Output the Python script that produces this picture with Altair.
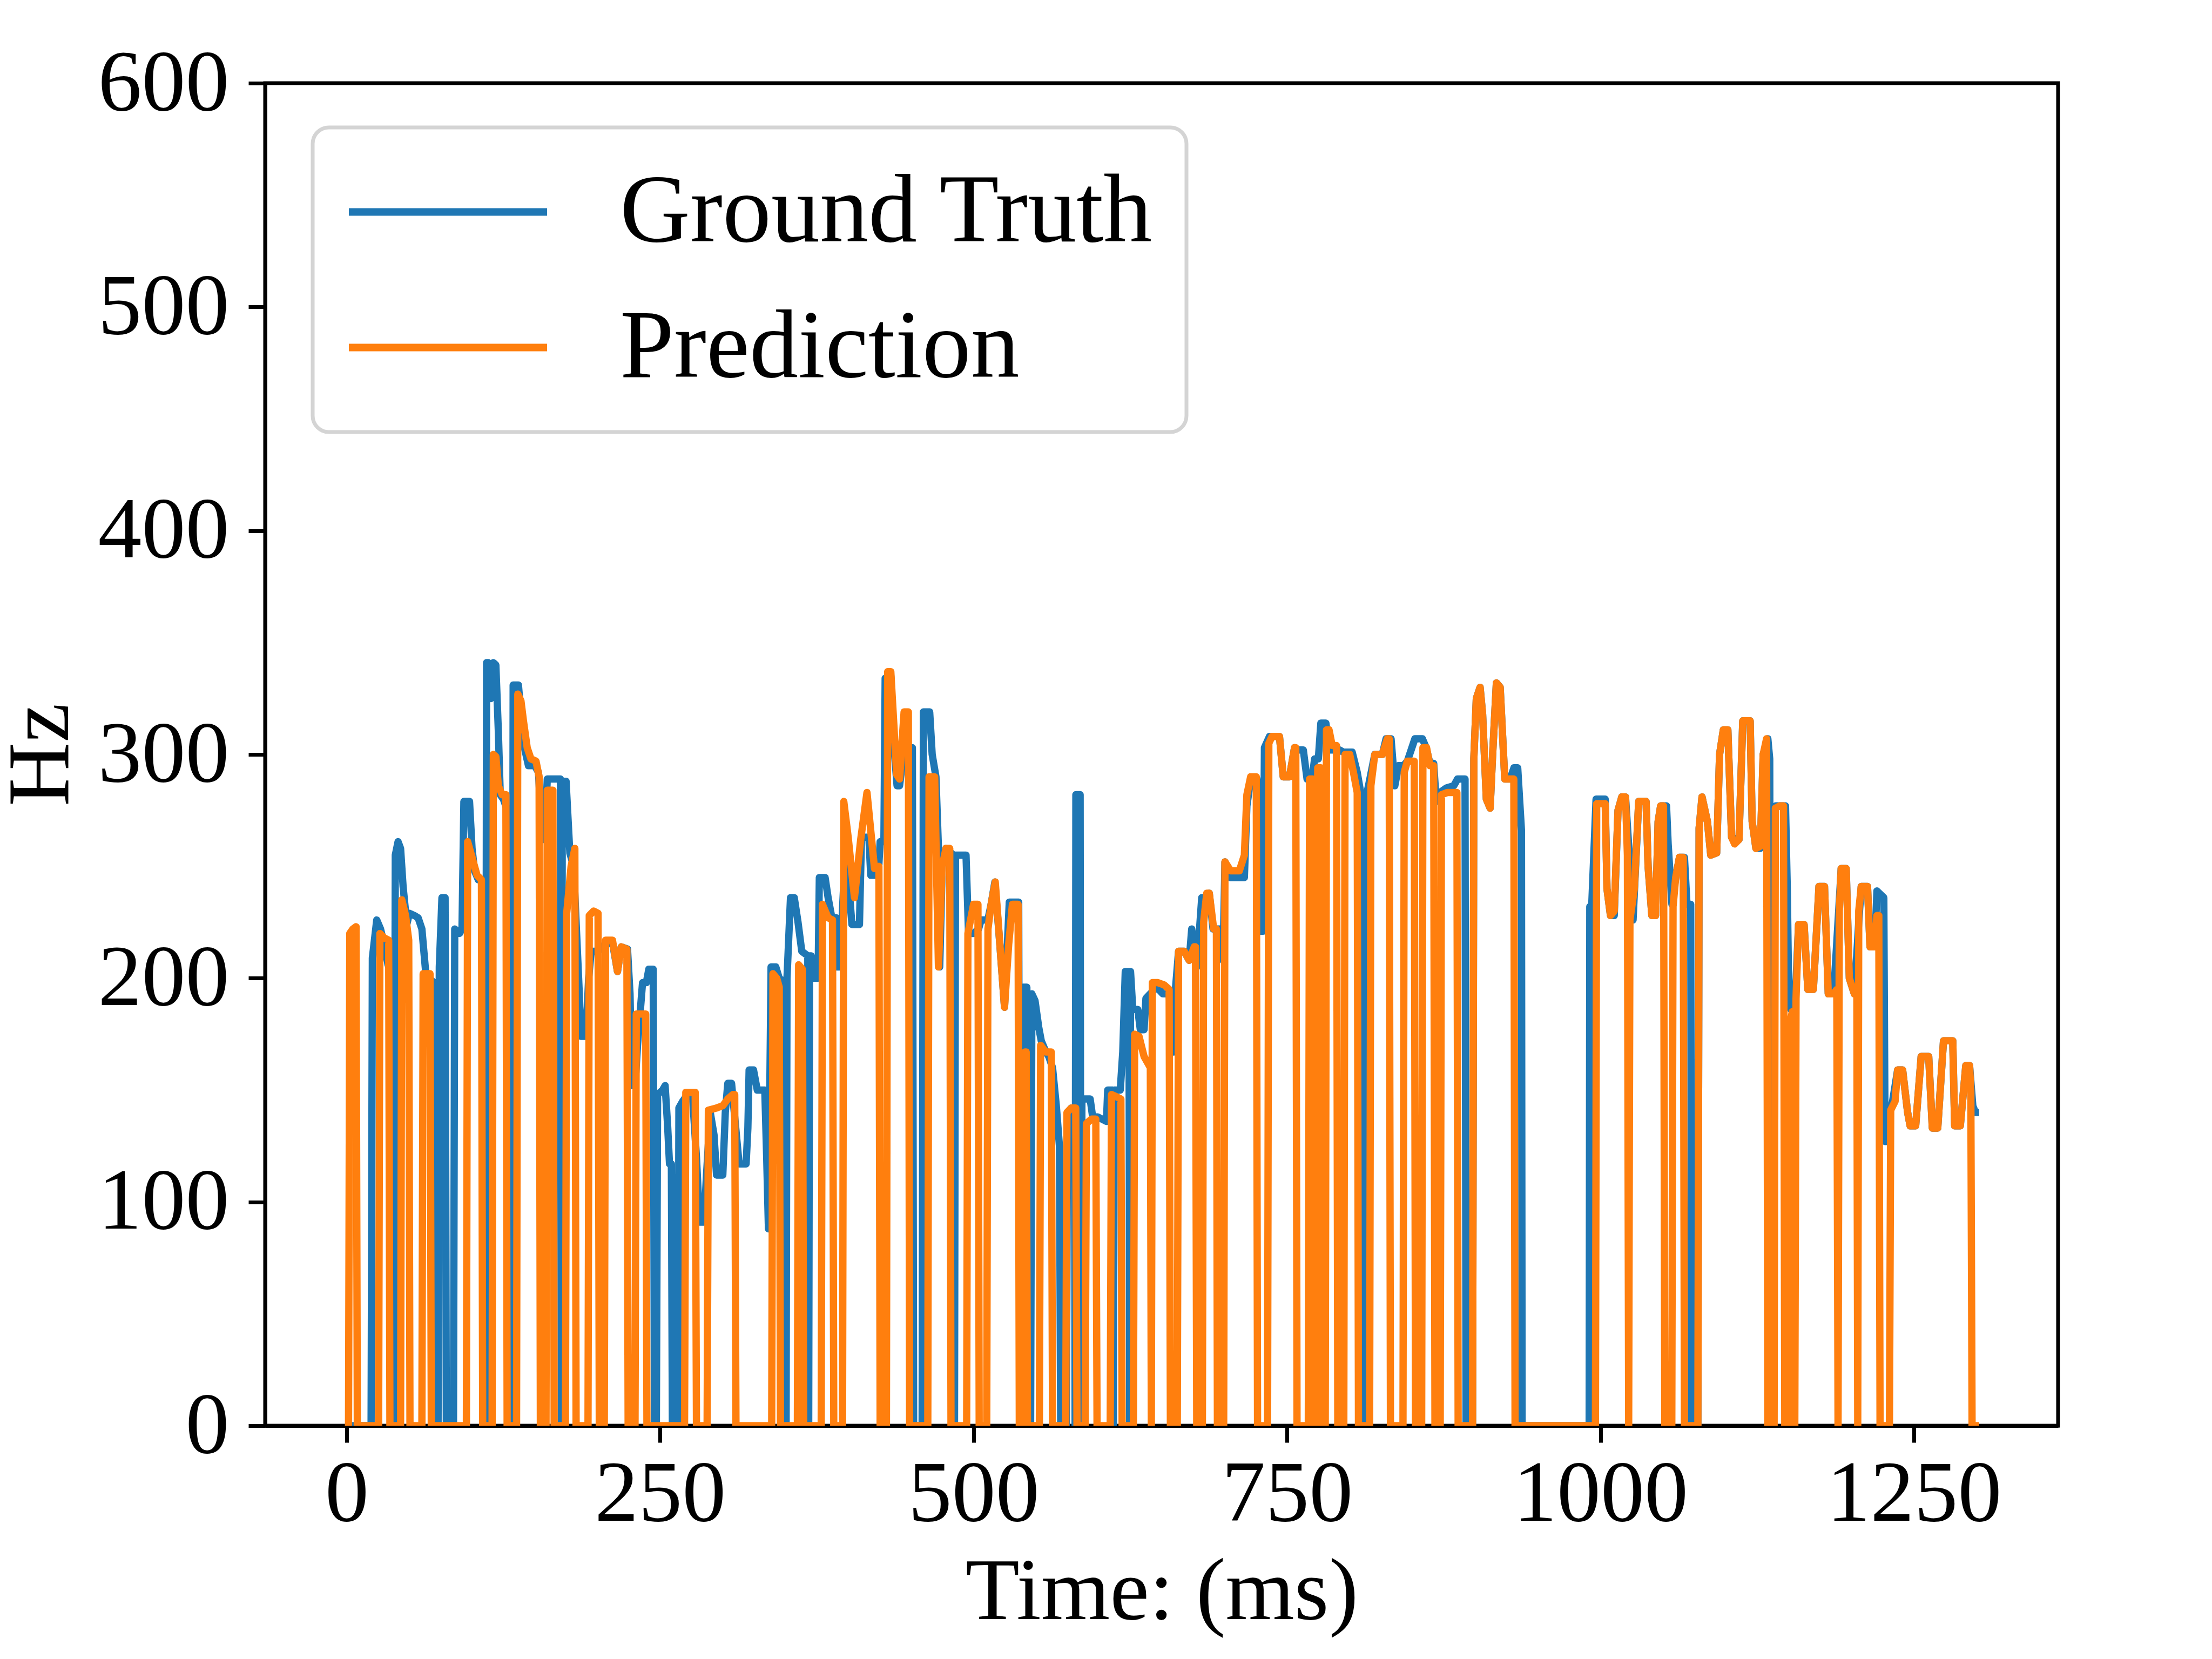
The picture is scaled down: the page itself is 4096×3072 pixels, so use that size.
import altair as alt
import pandas as pd

# ---------------- data (time in ms, f0 in Hz) ----------------
PRED_1 = [(0,0),(1.5,0),(2.5,220),(5,222),(7.5,223),(8.5,0),
          (25.5,0),(26.5,220),(30,218),(33.5,217),(34.5,0),
          (43,0),(44,235),(47,228),(49.5,217),(50.5,0),
          (60,0),(61,202),(66.5,202),(67.5,0),
          (95.5,0),(96.5,261),(100,254),(104,246),(107.5,244),(108.5,0),
          (116,0),(117,300),(119,299),(121,286),(124,282),(127,282),(128,0),
          (135.5,0),(136.5,327),(139,324),(141,315),(144,303),(147,298),(151,297),(153.5,290),(154.5,0),
          (159,0),(160,284),(164.5,284),(165.5,0),
          (174.5,0),(175.5,229),(179,250),(182,258),(183,0),
          (192.5,0),(193.5,228),(197,230),(200.5,229),(201.5,0),
          (205.5,0),(206.5,217),(212,217)]
PRED_2 = [(216,203),(219,214),(223.5,213),(224.5,0),
          (230,0),(231,184),(238.5,184),(239.5,0),
          (269.5,0),(270.5,149),(278,149),(279,0),
          (287.5,0),(288.5,141),(295,142),(300,143),(304,146),(308,148),(309.5,148),(310.5,0),
          (339,0),(340,202),(343,200),(345,196),(346,0),
          (359.5,0),(360.5,206),(363.5,204),(364.5,0),
          (378.5,0),(379.5,233),(384,227),(387.5,226),(388.5,0),
          (395.5,0),(396.5,279),(400,263),(405,236),(410,262),(415,283),(421,249),(424.5,250),(425.5,0),
          (430.5,0),(431.5,337)]
PRED_3 = [(434,337),(438.7,291),(441,289),(444.6,319),(448,319),(449,0),
          (463.5,0),(464.5,290),(469,290),(472,205),(475,250),(478,258),(481,258),(482,0),
          (494.5,0),(495.5,220),(500,233),(503.5,233),(504.5,0),
          (510.5,0),(511.5,222),(514,233),(517.3,243),(521,215),(524.7,187),(528,215),(531,233),(535.5,233),(536.5,0),
          (540,0),(541,167),(542,167),(543,0),
          (552.5,0),(553.5,170),(557.5,167),(562,167),(563,0),
          (573.5,0),(574.5,140),(578,142),(581.5,142),(582.5,0),
          (589,0),(590,135),(594,137),(597.5,137),(598.5,0),
          (609,0),(610,148),(614,147),(617.5,146),(618.5,0),
          (627.5,0),(628.5,175),(632,174),(636,165),(641,160),(641.8,0),(642.6,198),(647,198),(652,197),(656,195),(657,0),
          (662.5,0),(663.5,212)]
PRED_4 = [(668,212),(672,208),(676,214),(677,214),(678,0),
          (682.5,0),(683.5,225),(686,238),(688,238),(691.5,222),(693.7,222),(694.5,0),
          (699.5,0),(700.5,252),(705,248),(712,248),(716,255),(718,282),(721,290),(725.5,290),(726.5,0),
          (734.5,0),(735.5,305),(738,308),(744,308),(747,290),(752,290),(756,303),(757,303),(758,0),
          (767,0),(768,289),(770.5,289),(771.5,0),(773.5,0),(774.5,294),(777,294),(778,0),
          (780.5,0),(781.5,311),(783.5,311),(786,304),(789.5,304),(790.5,0),
          (795.3,0),(796.3,300),(800,300),(803,292),(806,283),(807,0),
          (815.9,0),(816.9,286),(820,300),(826,300),(830,307),(831.5,307),(832.5,0),
          (842.5,0),(843.5,292),(846,297),(851.5,297),(852.5,0),
          (857.4,0),(858.4,303),(861.3,303),(864,295),(867,295),(868,0),
          (872.2,0),(873.2,282),(878,283),(885.5,283),(886.5,0)]
PRED_5 = [(898,0),(899,298),(901,325),(904,330),(906,318),(909,280),(912,276),(914,300),(917,332),(920,330),
          (923.7,289),(928,289),(930.9,289),(931.9,0),
          (996,0),(997,278),(1003.8,278),(1005.2,240),(1008,228),(1011,230),(1014,275),(1017,281),(1020,281),
          (1021.5,255),(1022.5,0),(1023.5,226),(1027,240),(1030.5,279),(1036.4,279),(1038,250),(1041,228),
          (1044,228),(1046,270),(1048,277),(1050.3,277),(1051.3,0),
          (1056.9,0),(1057.9,232),(1060,245),(1063,254),(1066,254),(1067,0),
          (1077.7,0),(1078.7,267),(1081,281),(1085.3,270),(1088,255),(1092.7,256),(1095,300),(1098,311),(1101.6,311)]
PRED_6 = [(1104.6,263),(1107,260),(1110.5,262),(1113.5,315),(1119.4,315),(1121,270),(1124,258),(1127.5,259),
          (1129.8,300),(1132.5,307),(1133.5,0),
          (1138.5,0),(1139.5,276),(1143,277),(1146,277),(1147,0),
          (1150.5,0),(1151.5,181),(1153,185),(1154,0),(1155,0),(1156,191),(1158,224),(1162.4,224),(1165.4,195),
          (1169.8,195),(1174.3,241),(1178.7,241),(1181.7,193),(1186,193),(1188.5,195),(1189.5,0),(1190.5,230),
          (1192,249),(1196,249),(1198.5,200),(1202.5,193),(1204.5,193),(1205.2,0),(1206,230),(1208,241),
          (1213,241),(1215,214),(1218.8,214),(1220.5,228),(1222,228),(1223,0),
          (1230.5,0),(1231.5,141),(1235,145),(1237,159),(1241,159),(1245,140),(1247,134),(1251.4,134),
          (1255.8,165),(1261.8,165),(1264.7,133),(1269,133),(1273.6,172),(1281,172),(1282.5,134),(1287,134),
          (1291.4,161),(1294.4,161),(1295.4,150),(1296.4,0),(1302,0)]

GT_1 = [(0,0),(19.5,0),(20.5,209),(24,226),(27,222),(30,215),(33,206),(37,200),(37.8,0),(38.8,255),(41,261),
        (43,258),(45,241),(48,224),(50,229),(54,228),(57,227),(60,222),(63,203),(66,200),(69.5,198),(70.5,0),
        (72.9,0),(73.9,205),(76,236),(78.5,236),(79.5,0),(85.2,0),(86.2,222),(90,220),(92,222),(93.5,279),
        (98,279),(100,258),(102,248),(105,244),(110,244),(110.8,0),(111.6,341),(113,341),(115,325),(117,341),
        (119,340),(121,310),(122.5,282),(125,280),(130,272),(131,271),(131.8,0),(132.8,331),(137,331),(139,318),
        (141,305),(145,295),(150,295),(153,292),(156,262),(158,262),(160,289),(163.6,289),(170.5,289),(171.2,0),
        (172,288),(175,288),(178,256),(181,250),(185,200),(187,174),(191,174),(193,200),(195,212),(200,212),
        (203,213),(206,215),(210,216),(212,216)]
GT_2 = [(216,203),(219,214),(224,213),(226,193),(227.5,152),(230,152),(232,170),(236,198),(239,198),(241,204),
        (244.5,204),(245.5,0),(247,0),(248,148),(252,150),(254,152),(256,134),(257.5,117),(259,117),(259.8,0),
        (264.3,0),(265,142),(268,145),(272,148),(276,146),(279,120),(281.5,91),(285,91),(287,112),(290,140),
        (293,130),(295,112),(300,112),(302,140),(304,153),(307,153),(310,135),(313,117),(318.6,117),(320,133),
        (321,159),(324.5,159),(327.5,150),(333.5,150),(335,120),(336.4,88),(337.5,150),(338.5,205),(342.3,205),
        (345,200),(349.8,198),(350.5,0),(351.2,200),(354,236),(357,236),(360,225),(363,212),(367.8,210),
        (368.5,0),(369.2,210),(370.5,210),(372,200),(376,200),(377,245),(381.6,245),(384,236),(387,227),
        (390.5,227),(391,205),(393,205),(395,225),(398,260),(400,245),(403,224),(409,224),(410.6,263),
        (416.5,263),(418,246),(424,246),(425.5,261),(428.5,261),(429.5,334)]
GT_3 = [(434,335),(437,300),(439,286),(441,286),(444,300),(446,303),(451.2,303),(452.2,0),(459,0),(460,319),
        (465,319),(467,300),(470,290),(472,258),(473,205),(475,250),(478,258),(484,255),(484.8,0),(485.6,255),
        (494,255),(496,220),(500,220),(504,222),(506,226),(511.4,226),(514,233),(517,243),(521,215),(524.7,187),
        (528.5,234),(536,234),(537,0),(539,0),(539.5,196),(542.5,196),(543.5,0),(545.5,0),(546.5,193),(549,190),
        (552,178),(554,172),(557,168),(560,165),(563,160),(566,143),(568.5,125),(569.5,0),(574,0),(575,140),
        (578,142),(580.5,142),(581,0),(581.6,282),(585,282),(585.6,0),(586.4,146),(593,146),(595,138),(599,138),
        (606,136),(607,150),(611,150),(611.5,0),(612.2,150),(617,150),(619,167),(621,203),(624,203),(624.5,0),
        (625.2,203),(627,186),(631,186),(633,177),(636,177),(637.5,191),(646,196),(651,193),(656,193),
        (659.6,167),(661,195)]
GT_4 = [(663.5,212),(668,212),(672,208),(674,222),(676,214),(678,205),(680,220),(682,236),(685,236),(688,238),
        (691,222),(697,222),(699,208),(700.5,252),(705,245),(716,245),(718,277),(721,289),(726,289),(728,221),
        (731,221),(732,303),(736,308),(744,308),(747,290),(752,290),(756,303),(759,302),(763,302),(766,289),
        (770,289),(772,298),(775,298),(777,314),(781,314),(784,302),(792,302),(795,301),(802,301),(806,292),
        (810,279),(811,279),(811.6,0),(812.3,279),(815,286),(820,300),(826,300),(829,307),(833,307),(836,286),
        (839,295),(843,295),(846,297),(852,307),(858,307),(861,303),(864,296),(867,296),(869,279),(872,283),
        (877,285),(883,286),(886,289)]
GT_5 = [(890,289),(892,289),(892.8,0),(898,0),(899,298),(901,325),(904,330),(906,318),(909,280),(912,276),
        (914,300),(917,332),(920,330),(923.7,289),(928,289),(931,294),(934,294),(937,266),(937.5,0),(991,0),
        (991.5,232),(993,232),(996.5,280),(1003.8,280),(1005.2,240),(1008,228),(1011,228),(1014,275),(1017,281),
        (1020,281),(1023,255),(1026,226),(1030.5,279),(1036.4,279),(1038,250),(1041,228),(1044,228),(1046,270),
        (1048,277),(1052.7,277),(1054,260),(1057,233),(1060,245),(1063,254),(1067,254),(1069,233),(1072,233),
        (1072.7,0),(1077.7,0),(1078.7,267),(1081,281),(1085.3,270),(1088,255),(1092.7,256),(1095,300),
        (1098,311),(1101.6,311)]
GT_6 = [(1104.6,263),(1110.5,262),(1113.5,315),(1119.4,315),(1121,270),(1124,258),(1127.5,258),(1129.8,300),
        (1133.5,307),(1135,298),(1136,0),(1137,0),(1138,272),(1140,277),(1147.6,277),(1149,240),(1150,200),
        (1152,186),(1154,190),(1154.6,0),(1155.4,191),(1158,224),(1162.4,224),(1165.4,195),(1169.8,195),
        (1174.3,241),(1178.7,241),(1181.7,193),(1186,193),(1190,230),(1192,249),(1196,249),(1198.5,200),
        (1202.5,193),(1206,225),(1208,241),(1213,241),(1215,214),(1218.8,214),(1220.5,239),(1226,236),
        (1227,127),(1229,127),(1231,140),(1233,145),(1237,159),(1241,159),(1245,140),(1247,134),(1251.4,134),
        (1255.8,165),(1261.8,165),(1264.7,133),(1269,133),(1273.6,172),(1281,172),(1282.5,134),(1287,134),
        (1291.4,161),(1294.4,161),(1297,143),(1299,140),(1302,140)]

SERIES = ["Ground Truth", "Prediction"]
COLORS = ["#1f77b4", "#ff7f0e"]
X_TICKS = [0, 250, 500, 750, 1000, 1250]
Y_TICKS = [0, 100, 200, 300, 400, 500, 600]


def frame(segments, name):
    pts = [p for seg in segments for p in seg]
    return pd.DataFrame({
        "t": [p[0] for p in pts],
        "hz": [p[1] for p in pts],
        "i": list(range(len(pts))),
        "series": name,
    })


gt_df = frame([GT_1, GT_2, GT_3, GT_4, GT_5, GT_6], SERIES[0])
pred_df = frame([PRED_1, PRED_2, PRED_3, PRED_4, PRED_5, PRED_6], SERIES[1])

FONT = "Liberation Serif"

x_enc = alt.X("t:Q", scale=alt.Scale(domain=[-65, 1365], nice=False, zero=False),
              axis=alt.Axis(values=X_TICKS, format="d", title="Time: (ms)", titleX=1660, titleY=357,
                            titleBaseline="alphabetic", titleAlign="center"))
y_enc = alt.Y("hz:Q", scale=alt.Scale(domain=[0, 600], nice=False, zero=True),
              axis=alt.Axis(values=Y_TICKS, format="d", title="Hz", titleX=-366, titleY=1243,
                            titleAngle=270, titleBaseline="alphabetic", titleAlign="center"))
color_enc = alt.Color("series:N",
                      scale=alt.Scale(domain=SERIES, range=COLORS),
                      legend=alt.Legend(title=None, orient="none", legendX=88, legendY=82))

base_mark = dict(strokeWidth=13.5, strokeJoin="round", clip=True)

gt_line = alt.Chart(gt_df).mark_line(**base_mark).encode(
    x=x_enc, y=y_enc, color=color_enc, order="i:Q")
pred_line = alt.Chart(pred_df).mark_line(**base_mark).encode(
    x=x_enc, y=y_enc, color=color_enc, order="i:Q")

chart = alt.layer(gt_line, pred_line).properties(
    width=3320, height=2486,
    padding={"left": 483, "top": 146, "right": 277, "bottom": 416},
    autosize=alt.AutoSizeParams(type="none"),
    background="white",
).configure_view(
    stroke="black", strokeWidth=7
).configure_axis(
    grid=False, domainColor="black", domainWidth=7, tickColor="black", tickWidth=7,
    tickSize=31, labelFont=FONT, labelFontSize=162, labelColor="black", labelPadding=16,
    labelLimit=2000, labelFlush=False, labelOverlap=False,
    titleFont=FONT, titleFontSize=164, titleFontWeight="normal", titleColor="black",
    titleLimit=3000, zindex=1,
).configure_axisY(
    labelPadding=36,
).configure_legend(
    padding=60, symbolType="stroke", symbolSize=134689, symbolStrokeWidth=14, symbolOffset=0,
    labelFont=FONT, labelFontSize=180, labelColor="black", labelOffset=128, labelLimit=2000,
    clipHeight=193, rowPadding=58, strokeColor="#d4d4d4", strokeWidth=7, fillColor="white",
    cornerRadius=30,
)

chart.save("out.html", embed_options={"renderer": "svg", "actions": False})
